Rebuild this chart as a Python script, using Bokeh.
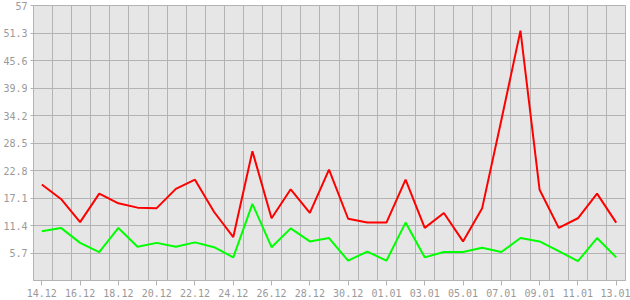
from bokeh.plotting import figure
from bokeh.models import FixedTicker, Range1d
from bokeh.embed import file_html
from bokeh.resources import INLINE

# ---- data ----
days = ["14.12", "15.12", "16.12", "17.12", "18.12", "19.12", "20.12", "21.12",
        "22.12", "23.12", "24.12", "25.12", "26.12", "27.12", "28.12", "29.12",
        "30.12", "31.12", "01.01", "02.01", "03.01", "04.01", "05.01", "06.01",
        "07.01", "08.01", "09.01", "10.01", "11.01", "12.01", "13.01"]
red_values = [19.9, 16.9, 12.1, 18.0, 16.0, 15.1, 15.0, 19.0, 20.9, 14.2, 9.0,
              26.8, 12.9, 18.9, 14.0, 23.0, 12.8, 12.0, 12.0, 20.9, 10.9, 14.0,
              8.1, 15.0, 33.2, 51.8, 18.8, 10.9, 12.9, 18.0, 12.0]
green_values = [10.2, 10.9, 7.8, 5.9, 10.9, 7.0, 7.8, 7.0, 7.9, 6.9, 4.8,
                15.9, 6.9, 10.8, 8.1, 8.8, 4.1, 6.0, 4.1, 12.0, 4.8, 5.9,
                5.9, 6.8, 5.9, 8.8, 8.1, 6.1, 4.0, 8.8, 4.8]
y_ticks = [5.7, 11.4, 17.1, 22.8, 28.5, 34.2, 39.9, 45.6, 51.3, 57]
y_labels = ["5.7", "11.4", "17.1", "22.8", "28.5", "34.2", "39.9", "45.6", "51.3", "57"]

x = list(range(len(days)))
x0, x1 = -0.434, 30.486

p = figure(width=630, height=300, output_backend="svg", toolbar_location=None,
           x_range=Range1d(x0, x1), y_range=Range1d(0, 57),
           min_border_left=33, min_border_right=5, min_border_top=5, min_border_bottom=20)
p.background_fill_color = "#e6e6e6"
p.border_fill_color = "white"
p.outline_line_color = "#b3b3b3"
p.outline_line_width = 1

grid_color = "#b3b3b3"
n_grid = 31
p.xgrid.ticker = FixedTicker(ticks=[x0 + k * (x1 - x0) / n_grid for k in range(n_grid + 1)])
p.ygrid.ticker = FixedTicker(ticks=y_ticks)
for g in (p.xgrid, p.ygrid):
    g.grid_line_color = grid_color
    g.grid_line_width = 1

font = "DejaVu Sans Mono"
lab_color = "#999999"

p.xaxis.ticker = FixedTicker(ticks=x[::2])
p.xaxis.major_label_overrides = {i: days[i] for i in x[::2]}
p.yaxis.ticker = FixedTicker(ticks=y_ticks)
p.yaxis.major_label_overrides = {t: l for t, l in zip(y_ticks, y_labels)}

for ax in (p.xaxis, p.yaxis):
    ax.axis_line_color = grid_color
    ax.major_tick_line_color = grid_color
    ax.minor_tick_line_color = None
    ax.major_tick_in = 0
    ax.major_label_text_font = font
    ax.major_label_text_font_size = "10px"
    ax.major_label_text_color = lab_color

p.xaxis.major_tick_out = 5
p.xaxis.major_label_standoff = 3
p.yaxis.major_tick_out = 3
p.yaxis.major_label_standoff = 3

p.line(x, red_values, line_color="#ff0000", line_width=2)
p.line(x, green_values, line_color="#00ff00", line_width=2)

open("out.html", "w").write(file_html(p, INLINE))
